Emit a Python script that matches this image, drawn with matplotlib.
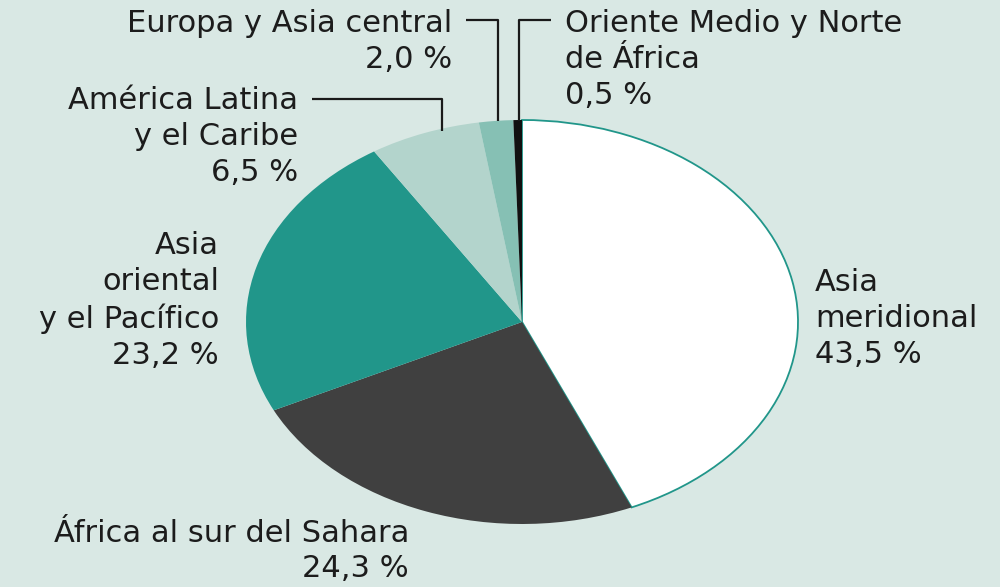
import matplotlib
matplotlib.use("Agg")
import matplotlib.pyplot as plt

categories = ["Asia\nmeridional", "África al sur del Sahara", "Asia\noriental\ny el Pacífico",
              "América Latina\ny el Caribe", "Europa y Asia central", "Oriente Medio y Norte\nde África"]
values = [43.5, 24.3, 23.2, 6.5, 2.0, 0.5]
value_labels = ["43,5 %", "24,3 %", "23,2 %", "6,5 %", "2,0 %", "0,5 %"]
colors = ["#ffffff", "#404040", "#21968a", "#b3d4cc", "#86c0b4", "#111111"]

BG = "#d9e8e4"
TXT = "#1c1c1c"
W, H = 1000, 587

fig = plt.figure(figsize=(10, 5.87), dpi=100)
fig.patch.set_facecolor(BG)

# pie axes: ellipse from x 246..798, y 120..524 (pixels from top)
px0, px1, py0, py1 = 246, 798, 120, 524
axp = fig.add_axes([px0 / W, (H - py1) / H, (px1 - px0) / W, (py1 - py0) / H])
wedges, _ = axp.pie(values, colors=colors, startangle=90, counterclock=False,
                    radius=1.0, wedgeprops=dict(linewidth=0))
wedges[0].set_edgecolor("#21968a")
wedges[0].set_linewidth(1.3)
axp.set_aspect("auto")
axp.set_xlim(-1, 1)
axp.set_ylim(-1, 1)
axp.axis("off")
axp.patch.set_alpha(0)

# overlay axes in pixel coordinates
ax = fig.add_axes([0, 0, 1, 1])
ax.set_xlim(0, W)
ax.set_ylim(H, 0)
ax.axis("off")
ax.patch.set_alpha(0)

fs = 22
ls = 1.31
kw = dict(fontsize=fs, color=TXT, family="DejaVu Sans")

def lab(i, x, y, ha, spacing=ls):
    ax.text(x, y, categories[i] + "\n" + value_labels[i], ha=ha, va="top",
            multialignment=ha, linespacing=spacing, **kw)

lab(0, 815, 268, "left")
lab(1, 409, 519, "right", spacing=1.24)
lab(2, 219, 231, "right")
lab(3, 298, 86, "right")
lab(4, 452, 9, "right")
lab(5, 565, 9, "left")

lc = dict(color="#1a1a1a", lw=1.6, solid_capstyle="butt")
ax.plot([312, 442, 442], [99, 99, 131], **lc)
ax.plot([466, 498, 498], [20, 20, 121], **lc)
ax.plot([551, 519, 519], [20, 20, 121], **lc)

fig.savefig("out.png", dpi=100, facecolor=BG)
